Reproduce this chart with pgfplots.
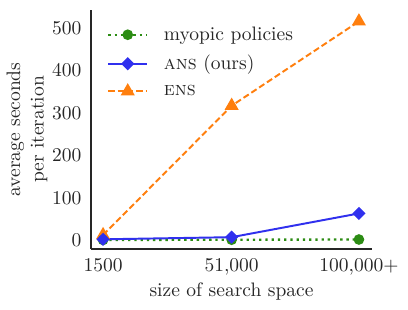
\documentclass[border=0pt]{standalone}
\usepackage{pgfplots}
\pgfplotsset{compat=1.18}
\definecolor{cgreen}{RGB}{44,140,20}
\definecolor{cblue}{RGB}{48,48,238}
\definecolor{corange}{RGB}{255,127,14}
\definecolor{ctext}{gray}{0.15}
\begin{document}
\begin{tikzpicture}
\useasboundingbox (-46.7pt,-30.8pt) rectangle (162.5pt,127.7pt);
\begin{axis}[
  at={(0,0)}, anchor=south west,
  width=144pt, height=122.6pt, scale only axis,
  axis x line*=bottom, axis y line*=left,
  axis line style={ctext, line width=0.9pt, -},
  xmin=-3117, xmax=105000,
  ymin=-21, ymax=543,
  scaled ticks=false,
  xtick={1500,51000,100000},
  xticklabels={1500,{51,000},{100,000+}},
  ytick={0,100,200,300,400,500},
  major tick length=0pt,
  tick label style={text=ctext},
  xticklabel style={yshift=-1.5pt},
  yticklabel style={xshift=-1.5pt},
  xlabel={size of search space},
  ylabel={average seconds\\per iteration},
  ylabel style={align=center, text=ctext, yshift=-4.5pt},
  xlabel style={text=ctext, yshift=3pt},
  legend cell align=left,
  legend style={draw=none, fill=none, at={(0.035,0.965)}, anchor=north west,
    row sep=2.2pt, text=ctext, font=\normalsize,
    /tikz/every odd column/.append style={column sep=6pt}},
  legend image code/.code={\draw[mark repeat=2,mark phase=2] plot coordinates {(0cm,0cm) (0.35cm,0cm) (0.7cm,0cm)};},
]
\addplot[corange, line width=1pt, dash pattern=on 3.2pt off 1.6pt, mark=triangle*, mark size=3.2pt, mark options={solid}, forget plot]
  coordinates {(1500,12) (51000,317) (100000,516)};
\addplot[cgreen, line width=1.2pt, dash pattern=on 1.2pt off 2pt, mark=*, mark size=2.1pt, mark options={solid}]
  coordinates {(1500,0.5) (51000,1) (100000,1.5)};
\addlegendentry{myopic policies}
\addplot[cblue, line width=1pt, mark=square*, mark size=1.9pt, mark options={solid, rotate=45}]
  coordinates {(1500,2) (51000,7) (100000,63)};
\addlegendentry{\textsc{ans} (ours)}
\addlegendimage{corange, line width=1pt, dash pattern=on 3.2pt off 1.6pt, mark=triangle*, mark size=3.2pt, mark options={solid}}
\addlegendentry{\textsc{ens}}
\end{axis}
\end{tikzpicture}
\end{document}
